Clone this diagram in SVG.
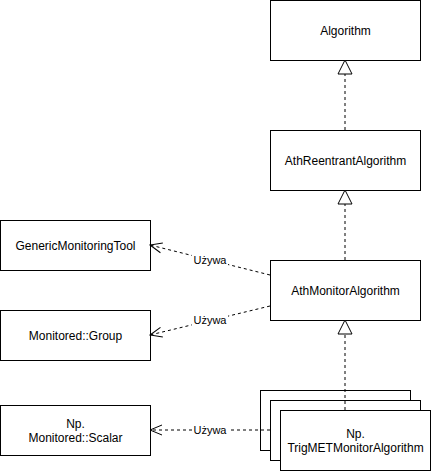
<svg xmlns="http://www.w3.org/2000/svg" width="431" height="471" viewBox="0 0 431 471">
<style>
.box{fill:#fff;stroke:#000;stroke-width:1}
.t{font-family:"Liberation Sans",Arial,sans-serif;font-size:12px;fill:#000;text-anchor:middle}
.dash{fill:none;stroke:#000;stroke-width:1;stroke-dasharray:3 3}
.lbl{font-family:"Liberation Sans",Arial,sans-serif;font-size:11px;fill:#000;text-anchor:middle}
</style>
<defs>
<marker id="tri" viewBox="0 0 16 16" refX="15" refY="8" markerWidth="16" markerHeight="16" markerUnits="userSpaceOnUse" orient="auto">
<path d="M1,1 L15,8 L1,15 Z" fill="#fff" stroke="#000" stroke-width="1"/>
</marker>
<marker id="open" viewBox="0 0 14 12" refX="13" refY="6" markerWidth="14" markerHeight="12" markerUnits="userSpaceOnUse" orient="auto">
<path d="M1,1 L13,6 L1,11" fill="none" stroke="#000" stroke-width="1"/>
</marker>
</defs>
<rect width="431" height="471" fill="#fff"/>
<g id="algorithm">
<rect class="box" x="270.5" y="0.5" width="150" height="60"/>
<text class="t" x="345.5" y="35">Algorithm</text>
</g>
<g id="athreentrant">
<rect class="box" x="270.5" y="130.5" width="150" height="60"/>
<text class="t" x="345.5" y="165">AthReentrantAlgorithm</text>
</g>
<g id="athmonitor">
<rect class="box" x="270.5" y="260.5" width="150" height="60"/>
<text class="t" x="345.5" y="295">AthMonitorAlgorithm</text>
</g>
<g id="gmt">
<rect class="box" x="0.5" y="220.5" width="150" height="50"/>
<text class="t" x="75.5" y="250">GenericMonitoringTool</text>
</g>
<g id="group">
<rect class="box" x="0.5" y="310.5" width="150" height="50"/>
<text class="t" x="75.5" y="340">Monitored::Group</text>
</g>
<g id="scalar">
<rect class="box" x="0.5" y="405.5" width="150" height="50"/>
<text class="t" x="75.5" y="428">Np.</text>
<text class="t" x="75.5" y="442">Monitored::Scalar</text>
</g>
<g id="trigmet">
<rect class="box" x="260.5" y="390.5" width="150" height="60"/>
<rect class="box" x="270.5" y="400.5" width="150" height="60"/>
<rect class="box" x="280.5" y="410.5" width="150" height="60"/>
<text class="t" x="355.5" y="438">Np.</text>
<text class="t" x="355.5" y="452">TrigMETMonitorAlgorithm</text>
</g>
<g id="connectors">
<path class="dash" d="M345,130 L345,60" marker-end="url(#tri)"/>
<path class="dash" d="M345,260 L345,190" marker-end="url(#tri)"/>
<path class="dash" d="M345,410 L345,320" marker-end="url(#tri)"/>
<path class="dash" d="M270,275 L150,245" marker-end="url(#open)"/>
<path class="dash" d="M270,306 L150,335" marker-end="url(#open)"/>
<path class="dash" d="M270,430 L150,430" marker-end="url(#open)"/>
<rect x="192" y="254" width="36" height="13" fill="#fff"/>
<text class="lbl" x="210" y="264">Używa</text>
<rect x="192" y="314" width="36" height="13" fill="#fff"/>
<text class="lbl" x="210" y="324">Używa</text>
<rect x="192" y="424" width="36" height="13" fill="#fff"/>
<text class="lbl" x="210" y="434">Używa</text>
</g>
</svg>
